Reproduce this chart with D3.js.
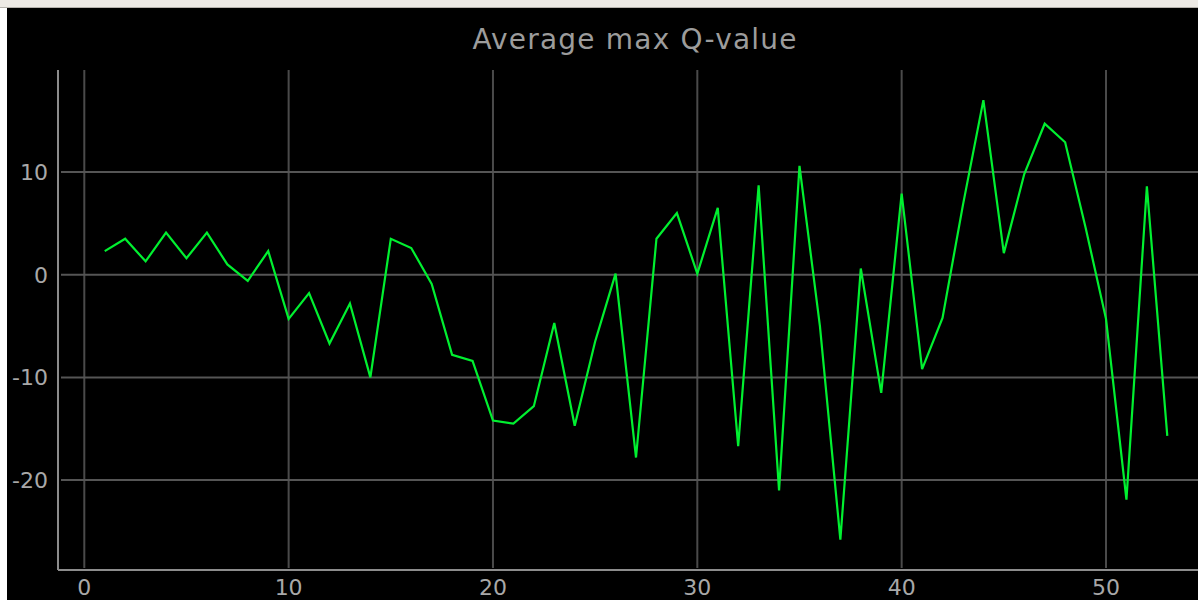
<!DOCTYPE html>
<html>
<head>
<meta charset="utf-8">
<script src="https://cdn.jsdelivr.net/npm/d3@7"></script>
<style>
  html, body { margin: 0; padding: 0; background: #ffffff; }
  svg { display: block; }
  text { font-family: "DejaVu Sans", sans-serif; }
</style>
</head>
<body>
<svg id="chart" width="1198" height="600"></svg>
<script>
// Training episodes (epochs) and the average max Q-value recorded at each
const epochs = d3.range(1, 54);
const avgMaxQ = [
  2.3, 3.5, 1.3, 4.1, 1.6, 4.1, 1.0, -0.6, 2.3, -4.3,
  -1.8, -6.7, -2.8, -10.0, 3.5, 2.6, -0.9, -7.8, -8.4, -14.2,
  -14.5, -12.8, -4.7, -14.7, -6.5, 0.1, -17.8, 3.5, 6.0, 0.1,
  6.5, -16.7, 8.7, -21.0, 10.6, -5.0, -25.8, 0.6, -11.5, 7.9,
  -9.2, -4.2, 6.8, 17.0, 2.1, 9.8, 14.7, 12.9, 4.6, -4.3,
  -21.9, 8.6, -15.7
];
const xTicks = [0, 10, 20, 30, 40, 50];
const yTicks = [-20, -10, 0, 10];
const title = "Average max Q-value";

const svg = d3.select("#chart");
const W = 1198, H = 600;

// Window frame: pale strip on top, white edge on the left, black canvas
svg.append("rect").attr("x", 0).attr("y", 0).attr("width", W).attr("height", H).attr("fill", "#ffffff");
svg.append("rect").attr("x", 0).attr("y", 0).attr("width", W).attr("height", 8).attr("fill", "#edeae5");
svg.append("rect").attr("x", 0).attr("y", 7).attr("width", W).attr("height", 1).attr("fill", "#b5b2ac");
svg.append("rect").attr("x", 7).attr("y", 8).attr("width", W - 7).attr("height", H - 8).attr("fill", "#000000");

// Plot area
const plotLeft = 58, plotTop = 70, plotBottom = 570, plotRight = W;

const x = d3.scaleLinear().domain([0, 50]).range([84.3, 1106]);
const y = d3.scaleLinear().domain([-20, 10]).range([480.1, 172]);

// Grid lines
const grid = svg.append("g").attr("stroke", "#4a4a4a").attr("stroke-width", 2);
grid.selectAll("line.vx").data(xTicks).join("line")
  .attr("class", "vx")
  .attr("x1", d => x(d)).attr("x2", d => x(d))
  .attr("y1", plotTop).attr("y2", plotBottom - 2);
grid.selectAll("line.hy").data(yTicks).join("line")
  .attr("class", "hy")
  .attr("x1", plotLeft + 3).attr("x2", plotRight)
  .attr("y1", d => y(d)).attr("y2", d => y(d))
  .attr("stroke", "#555555");

// Axis lines
svg.append("line")
  .attr("x1", plotLeft).attr("x2", plotLeft)
  .attr("y1", plotTop).attr("y2", plotBottom)
  .attr("stroke", "#8c8c8c").attr("stroke-width", 2);
svg.append("line")
  .attr("x1", plotLeft).attr("x2", plotRight)
  .attr("y1", plotBottom).attr("y2", plotBottom)
  .attr("stroke", "#8c8c8c").attr("stroke-width", 2);

// Tick labels
svg.append("g").selectAll("text").data(xTicks).join("text")
  .attr("x", d => x(d)).attr("y", 595)
  .attr("text-anchor", "middle")
  .attr("font-size", 22)
  .attr("fill", "#a8a8a8")
  .text(d => d);
svg.append("g").selectAll("text").data(yTicks).join("text")
  .attr("x", 48).attr("y", d => y(d))
  .attr("dy", "0.36em")
  .attr("text-anchor", "end")
  .attr("font-size", 22)
  .attr("fill", "#a8a8a8")
  .text(d => d);

// Title
svg.append("text")
  .attr("x", 635).attr("y", 49)
  .attr("text-anchor", "middle")
  .attr("font-size", 28)
  .attr("letter-spacing", 1.2)
  .attr("fill", "#9c9c9c")
  .text(title);

// Q-value line
const line = d3.line()
  .x((d, i) => x(epochs[i]))
  .y(d => y(d));
svg.append("path")
  .datum(avgMaxQ)
  .attr("d", line)
  .attr("fill", "none")
  .attr("stroke", "#00f030")
  .attr("stroke-width", 2.2)
  .attr("stroke-linejoin", "miter");
</script>
</body>
</html>
